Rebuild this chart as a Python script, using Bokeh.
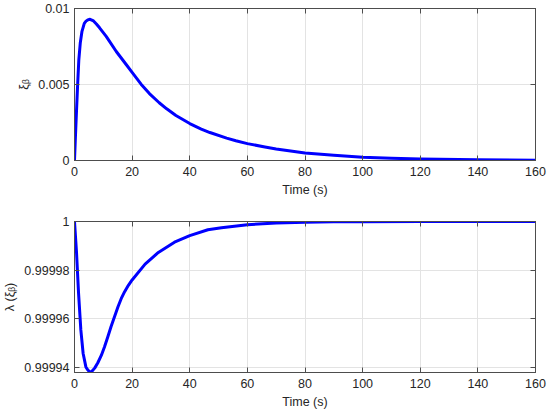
from bokeh.plotting import figure
from bokeh.models import LinearAxis, FixedTicker, Range1d
from bokeh.layouts import column
from bokeh.embed import file_html
from bokeh.resources import INLINE

# ---- data ----
t_xi = [0, 0.3, 0.6, 1.05, 1.5, 2.0, 2.6, 3.4, 4.0, 4.6, 5.4, 6.6, 7.6, 8.7,
        11.0, 14.5, 18.0, 20, 23.1, 26.0, 29.4, 32.0, 35.2, 40, 44, 47, 52.8,
        56, 60, 66.1, 70, 80, 90, 100, 110, 120, 140, 160]
xi_beta = [0, 0.00145, 0.00284, 0.00484, 0.00662, 0.00773, 0.0085, 0.00902,
           0.00917, 0.00925, 0.00929, 0.00918, 0.00898, 0.00873, 0.00817,
           0.00717, 0.0063, 0.0058, 0.00502, 0.0044, 0.0038, 0.0034, 0.00296,
           0.00243, 0.00207, 0.00184, 0.00147, 0.0013, 0.00111, 0.00089,
           0.00076, 0.0005, 0.00034, 0.00022, 0.00015, 0.0001, 0.00005,
           0.00002]

t_lam = [0, 0.7, 1.4, 2.2, 3.0, 3.95, 4.5, 5.1, 5.6, 6.05, 7.0, 8.1, 9.3, 10.4,
         11.6, 12.7, 15.1, 16.2, 17.4, 18.7, 20, 24.5, 29.1, 34.7, 40, 46.3,
         51, 60, 70, 80, 90, 100, 120, 140, 160]
lam = [1.0, 0.9999873, 0.9999707, 0.9999555, 0.9999458, 0.9999403, 0.9999392,
       0.9999384, 0.9999383, 0.9999385, 0.9999398, 0.999942, 0.999945,
       0.9999485, 0.9999528, 0.9999569, 0.999965, 0.9999683, 0.9999712,
       0.9999738, 0.999976, 0.9999825, 0.9999873, 0.9999915, 0.9999942,
       0.9999966, 0.9999974, 0.9999987, 0.9999994, 0.9999997, 0.99999985,
       0.99999993, 0.99999998, 1.0, 1.0]

x_ticks = [0, 20, 40, 60, 80, 100, 120, 140, 160]
y1_ticks = [0, 0.005, 0.01]
y1_labels = ["0", "0.005", "0.01"]
y2_ticks = [0.99994, 0.99996, 0.99998, 1.0]
y2_labels = ["0.99994", "0.99996", "0.99998", "1"]

FONT = "Liberation Sans"
TXT = "#262626"
AX = "#4d4d4d"
GRID = "#e3e3e3"
BLUE = "#0000ff"


def make(y_range, yticks, ylabels, ylabel, height, b_top, b_bottom):
    p = figure(width=548, height=height, x_range=Range1d(0, 160),
               y_range=y_range, output_backend="svg", toolbar_location=None,
               min_border_left=73, min_border_right=13,
               min_border_top=b_top, min_border_bottom=b_bottom)
    p.background_fill_color = "white"
    p.border_fill_color = "white"
    p.outline_line_color = AX
    p.outline_line_width = 1
    p.xaxis.ticker = FixedTicker(ticks=x_ticks)
    p.yaxis.ticker = FixedTicker(ticks=yticks)
    p.yaxis.major_label_overrides = {v: s for v, s in zip(yticks, ylabels)}
    p.xaxis.axis_label = "Time (s)"
    p.yaxis.axis_label = ylabel
    for ax in (p.xaxis[0], p.yaxis[0]):
        ax.major_tick_in = 5
        ax.major_tick_out = 0
        ax.minor_tick_line_color = None
        ax.axis_line_color = AX
        ax.major_tick_line_color = AX
        ax.major_label_text_font = FONT
        ax.major_label_text_font_size = "12.5px"
        ax.major_label_text_color = TXT
        ax.axis_label_text_font = FONT
        ax.axis_label_text_font_size = "12.5px"
        ax.axis_label_text_font_style = "normal"
        ax.axis_label_text_color = TXT
        ax.axis_label_standoff = 4
    p.xaxis.major_label_standoff = 6
    p.yaxis.major_label_standoff = 5
    for side in ("right", "above"):
        ax = LinearAxis(ticker=FixedTicker(ticks=yticks if side == "right" else x_ticks))
        ax.major_tick_in = 5
        ax.major_tick_out = 0
        ax.minor_tick_line_color = None
        ax.major_label_text_color = None
        ax.major_label_text_font_size = "0px"
        ax.major_label_standoff = 0
        ax.axis_line_color = AX
        ax.major_tick_line_color = AX
        p.add_layout(ax, side)
    p.xgrid.ticker = FixedTicker(ticks=x_ticks)
    p.ygrid.ticker = FixedTicker(ticks=yticks)
    p.xgrid.grid_line_color = GRID
    p.ygrid.grid_line_color = GRID
    return p


p1 = make(Range1d(0, 0.01), y1_ticks, y1_labels, "ξᵦ", 208, 8, 48)
p1.line(t_xi, xi_beta, line_color=BLUE, line_width=3, line_join="round")

p2 = make(Range1d(0.999938, 1.0), y2_ticks, y2_labels, "λ (ξᵦ)", 206, 13, 42)
p2.line(t_lam, lam, line_color=BLUE, line_width=3, line_join="round")

layout = column(p1, p2, spacing=0)
open("out.html", "w").write(file_html(layout, INLINE))
